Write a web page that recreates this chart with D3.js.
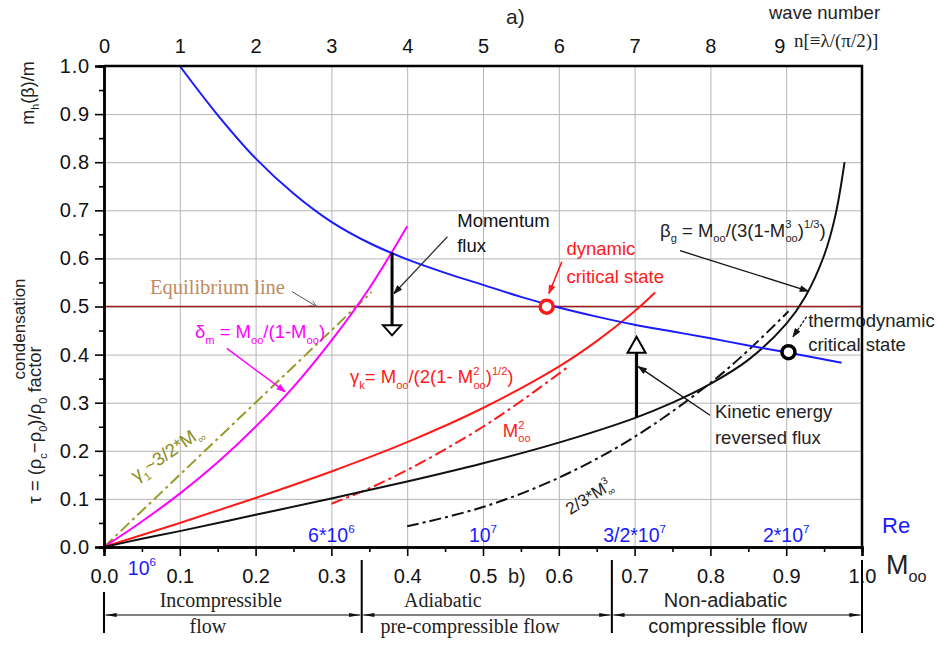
<!DOCTYPE html>
<html>
<head>
<meta charset="utf-8">
<script src="https://cdn.jsdelivr.net/npm/d3@7"></script>
<style>
  body { margin: 0; background: #fff; }
  text { font-family: Arial, "Liberation Sans", sans-serif; }
  .serif { font-family: "Liberation Serif", "Times New Roman", serif; }
</style>
</head>
<body>
<svg id="chart"></svg>
<script>
var svgWidth = 938;
var svgHeight = 645;

var margin = { top: 66, right: 76, bottom: 98, left: 104 };
var chartWidth = svgWidth - margin.left - margin.right;
var chartHeight = svgHeight - margin.top - margin.bottom;

// ---- data ----
var machTicks = [0.0, 0.1, 0.2, 0.3, 0.4, 0.5, 0.6, 0.7, 0.8, 0.9, 1.0];
var machMinor = [0.05, 0.15, 0.25, 0.35, 0.45, 0.55, 0.65, 0.75, 0.85, 0.95];
var ratioTicks = [0.0, 0.1, 0.2, 0.3, 0.4, 0.5, 0.6, 0.7, 0.8, 0.9, 1.0];
var ratioMinor = [0.05, 0.15, 0.25, 0.35, 0.45, 0.55, 0.65, 0.75, 0.85, 0.95];
var waveTicks = [0, 1, 2, 3, 4, 5, 6, 7, 8, 9];

// blue: m_h(beta)/m
var massM = [0.1, 0.15, 0.2, 0.25, 0.3, 0.35, 0.4, 0.45, 0.5, 0.55, 0.6, 0.65, 0.7, 0.75, 0.8, 0.85, 0.9, 0.973];
var massV = [1.0, 0.898, 0.808, 0.735, 0.676, 0.632, 0.598, 0.570, 0.545, 0.520, 0.498, 0.479, 0.462, 0.448, 0.434, 0.419, 0.405, 0.383];

// black solid: beta_g
var betaM = [0, 0.05, 0.1, 0.2, 0.3, 0.4, 0.5, 0.6, 0.7, 0.75, 0.8, 0.85, 0.9, 0.925, 0.95, 0.965, 0.977];
var betaV = [0, 0.017, 0.033, 0.067, 0.101, 0.136, 0.174, 0.217, 0.268, 0.300, 0.339, 0.389, 0.464, 0.520, 0.606, 0.690, 0.80];

// red solid: gamma_k
var gammaKM = [0, 0.1, 0.2, 0.3, 0.4, 0.5, 0.6, 0.65, 0.7, 0.727];
var gammaKV = [0, 0.050, 0.102, 0.157, 0.218, 0.289, 0.375, 0.428, 0.490, 0.529];

// red dash-dot: M^2
var machSqM = [0.3, 0.35, 0.4, 0.45, 0.5, 0.55, 0.61];
var machSqV = [0.09, 0.122, 0.16, 0.203, 0.25, 0.303, 0.372];

// magenta: delta_m
var deltaM = [0, 0.05, 0.1, 0.15, 0.2, 0.25, 0.3, 0.35, 0.4];
var deltaV = [0, 0.053, 0.111, 0.176, 0.25, 0.333, 0.429, 0.538, 0.667];

// olive dash-dot: gamma_1
var gamma1M = [0, 0.353];
var gamma1V = [0, 0.53];

// black dash-dot: 2/3*M^3
var cubeM = [0.4, 0.5, 0.6, 0.7, 0.8, 0.85, 0.903];
var cubeV = [0.043, 0.083, 0.144, 0.229, 0.341, 0.409, 0.49];

var equilibrium = 0.5;
var dynamicState = [0.584, 0.4996];
var thermoState = [0.903, 0.405];
var momentumFlux = [0.38, 0.612, 0.44];
var kineticFlux = [0.7026, 0.27, 0.437];

var reLabels = [["10", "6"], ["6*10", "6"], ["10", "7"], ["3/2*10", "7"], ["2*10", "7"]];
var reAt = [0.05, 0.3, 0.5, 0.7, 0.9];

var regimeBounds = [0, 0.34, 0.67, 1.0];
var regimeTop = ["Incompressible", "Adiabatic", "Non-adiabatic"];
var regimeTopAt = [0.154, 0.447, 0.82];
var regimeBottom = ["flow", "pre-compressible flow", "compressible flow"];
var regimeBottomAt = [0.137, 0.483, 0.823];
var regimeSerif = [true, true, false];

function pairs(xs, ys) { return xs.map(function(d, i) { return [d, ys[i]]; }); }

var svg = d3.select("#chart")
  .attr("width", svgWidth)
  .attr("height", svgHeight);

var defs = svg.append("defs");
function marker(id, color, open) {
  defs.append("marker")
    .attr("id", id)
    .attr("viewBox", "0 -5 10 10")
    .attr("refX", 10).attr("refY", 0)
    .attr("markerWidth", open ? 9 : 11).attr("markerHeight", open ? 7 : 8)
    .attr("markerUnits", "userSpaceOnUse")
    .attr("orient", "auto-start-reverse")
    .append("path")
    .attr("d", open ? "M0,-4L10,0L0,4" : "M0,-3.5L10,0L0,3.5Z")
    .attr("fill", open ? "none" : color)
    .attr("stroke", color)
    .attr("stroke-width", 1);
}
marker("arrBlack", "#111", false);
marker("arrRed", "#ff1a1a", false);
marker("arrMag", "#ff00ff", false);
marker("arrGray", "#555", true);
defs.append("marker")
  .attr("id", "arrBracket")
  .attr("viewBox", "0 -5 16 10")
  .attr("refX", 16).attr("refY", 0)
  .attr("markerWidth", 15).attr("markerHeight", 7)
  .attr("markerUnits", "userSpaceOnUse")
  .attr("orient", "auto-start-reverse")
  .append("path").attr("d", "M0,-3L16,0L0,3Z").attr("fill", "#111");

var chartGroup = svg.append("g")
  .attr("transform", `translate(${margin.left}, ${margin.top})`);

var xLinearScale = d3.scaleLinear().domain([0, 1]).range([0, chartWidth]);
var xWaveScale = d3.scaleLinear().domain([0, 10]).range([0, chartWidth]);
var yLinearScale = d3.scaleLinear().domain([0, 1]).range([chartHeight, 0]);

// grid
chartGroup.append("g")
  .attr("class", "grid")
  .attr("transform", `translate(0, ${chartHeight})`)
  .call(d3.axisBottom(xLinearScale).tickValues(machTicks.slice(1, -1)).tickSize(-chartHeight).tickFormat(""))
  .call(g => g.select(".domain").remove());
chartGroup.append("g")
  .attr("class", "grid")
  .call(d3.axisLeft(yLinearScale).tickValues(ratioTicks.slice(1, -1)).tickSize(-chartWidth).tickFormat(""))
  .call(g => g.select(".domain").remove());
chartGroup.selectAll(".grid line").attr("stroke", "#b4b4b4").attr("stroke-width", 1);

// equilibrium line
chartGroup.append("line")
  .attr("x1", xLinearScale(0)).attr("x2", xLinearScale(1))
  .attr("y1", yLinearScale(equilibrium)).attr("y2", yLinearScale(equilibrium))
  .attr("stroke", "#9b1c1c").attr("stroke-width", 1.5);

// curves
var line = d3.line()
  .x(d => xLinearScale(d[0]))
  .y(d => yLinearScale(d[1]))
  .curve(d3.curveCatmullRom.alpha(0.5));

function curve(data, color, dash, width) {
  chartGroup.append("path")
    .datum(data)
    .attr("d", line)
    .attr("fill", "none")
    .attr("stroke", color)
    .attr("stroke-width", width || 2)
    .attr("stroke-dasharray", dash || null);
}
curve(pairs(gamma1M, gamma1V), "#9a9a2a", "12,4,3,4", 2);
curve(pairs(deltaM, deltaV), "#ff00ff");
curve(pairs(gammaKM, gammaKV), "#ff1a1a");
curve(pairs(machSqM, machSqV), "#ff1a1a", "12,4,3,4");
curve(pairs(cubeM, cubeV), "#111", "12,4,3,4");
curve(pairs(betaM, betaV), "#111");
curve(pairs(massM, massV), "#1a1aff");

// axes
var leftAxis = d3.axisLeft(yLinearScale).tickValues(ratioTicks).tickSize(9).tickPadding(5).tickFormat(d3.format(".1f"));
chartGroup.append("g").attr("class", "axis left").call(leftAxis);
chartGroup.append("g").attr("class", "axis minor")
  .call(d3.axisLeft(yLinearScale).tickValues(ratioMinor).tickSize(5).tickFormat(""));

var bottomAxis = d3.axisBottom(xLinearScale).tickValues(machTicks).tickSize(9).tickFormat(d3.format(".1f"));
chartGroup.append("g").attr("class", "axis bottom")
  .attr("transform", `translate(0, ${chartHeight})`)
  .call(bottomAxis)
  .selectAll("text").attr("y", 36).attr("dy", 0);
chartGroup.append("g").attr("class", "axis minor")
  .attr("transform", `translate(0, ${chartHeight})`)
  .call(d3.axisBottom(xLinearScale).tickValues(machMinor).tickSize(5).tickFormat(""));

chartGroup.append("g").attr("class", "axis top")
  .call(d3.axisTop(xWaveScale).tickValues(waveTicks).tickSize(0).tickPadding(13))
  .call(g => g.select(".domain").remove());

chartGroup.selectAll(".axis .domain").attr("stroke", "#000").attr("stroke-width", 2.5);
chartGroup.selectAll(".axis line").attr("stroke", "#000").attr("stroke-width", 1.6);
chartGroup.selectAll(".axis text").attr("font-size", 20).attr("fill", "#111")
  .style("font-family", "Arial, 'Liberation Sans', sans-serif");
chartGroup.selectAll(".axis.left text").attr("letter-spacing", 0.8);
chartGroup.selectAll(".axis.top text").filter(d => d === 9).attr("dx", -7);

// frame top + right
chartGroup.append("path")
  .attr("d", `M${xLinearScale(0)},${yLinearScale(1)}H${xLinearScale(1)}V${yLinearScale(0)}`)
  .attr("fill", "none").attr("stroke", "#000").attr("stroke-width", 2.5);

// rich text helper: parts = [text, "sub"|"sup"|"", dx]
function rich(sel, parts, base) {
  var shift = 0;
  parts.forEach(function(p) {
    var target = p[1] === "sub" ? base * 0.3 : p[1] === "sup" ? -base * 0.45 : 0;
    var t = sel.append("tspan")
      .attr("dy", target - shift)
      .attr("font-size", p[1] ? base * 0.6 : base)
      .text(p[0]);
    if (p[2]) t.attr("dx", p[2]);
    shift = target;
  });
  return sel;
}
function label(m, v, parts, base, color, opts) {
  opts = opts || {};
  var t = chartGroup.append("text")
    .attr("fill", color)
    .attr("font-size", base)
    .attr("text-anchor", opts.anchor || "start");
  if (opts.rotate) {
    t.attr("transform", `translate(${xLinearScale(m)}, ${yLinearScale(v)}) rotate(${opts.rotate})`);
  } else {
    t.attr("x", xLinearScale(m)).attr("y", yLinearScale(v));
  }
  if (opts.serif) t.attr("class", "serif");
  return rich(t, parts, base);
}
function arrow(a, b, id, color, width, dash) {
  chartGroup.append("line")
    .attr("x1", xLinearScale(a[0])).attr("y1", yLinearScale(a[1]))
    .attr("x2", xLinearScale(b[0])).attr("y2", yLinearScale(b[1]))
    .attr("stroke", color).attr("stroke-width", width || 1.3)
    .attr("stroke-dasharray", dash || null)
    .attr("marker-end", `url(#${id})`);
}
function fluxArrow(f, headLen) {
  var x = xLinearScale(f[0]);
  var y0 = yLinearScale(f[1]);
  var tip = yLinearScale(f[2]);
  var dir = tip > y0 ? -1 : 1;
  var base = tip + dir * headLen;
  chartGroup.append("line")
    .attr("x1", x).attr("x2", x).attr("y1", y0).attr("y2", base)
    .attr("stroke", "#000").attr("stroke-width", 3);
  chartGroup.append("path")
    .attr("d", `M${x - 9},${base}L${x + 9},${base}L${x},${tip}Z`)
    .attr("fill", "#fff").attr("stroke", "#000").attr("stroke-width", 2);
}

// annotations
label(0.0607, 0.527, [["Equilibrium line", ""]], 20.5, "#c08a62", { serif: true });
arrow([0.248, 0.531], [0.281, 0.4996], "arrGray", "#555", 1);

fluxArrow(momentumFlux, 10);
label(0.466, 0.666, [["Momentum", ""]], 18.5, "#111");
label(0.466, 0.614, [["flux", ""]], 18.5, "#111");
arrow([0.453, 0.645], [0.3826, 0.527], "arrBlack", "#333", 1.3);

label(0.61, 0.607, [["dynamic", ""]], 18.5, "#ff1a1a");
label(0.61, 0.549, [["critical state", ""]], 18.5, "#ff1a1a");
arrow([0.604, 0.593], [0.587, 0.527], "arrRed", "#ff1a1a", 1.6);

label(0.7335, 0.645, [["β", ""], ["g", "sub"], [" = M", ""], ["oo", "sub"], ["/(3(1-M", ""], ["3", "sup"], ["oo", "sub", -6], [")", ""], ["1/3", "sup"], [")", ""]], 18.5, "#222");
arrow([0.76, 0.616], [0.929, 0.532], "arrBlack", "#111", 1.3);

label(0.929, 0.458, [["thermodynamic", ""]], 18.5, "#222");
label(0.929, 0.408, [["critical state", ""]], 18.5, "#222");
arrow([0.927, 0.479], [0.909, 0.437], "arrBlack", "#111", 1.2, "3,1.5");

fluxArrow(kineticFlux, 16);
label(0.806, 0.2676, [["Kinetic energy", ""]], 18.5, "#222");
label(0.806, 0.214, [["reversed flux", ""]], 18.5, "#222");
arrow([0.7995, 0.274], [0.705, 0.375], "arrBlack", "#111", 1.3);

label(0.12, 0.434, [["δ", ""], ["m", "sub"], [" = M", ""], ["oo", "sub"], ["/(1-M", ""], ["oo", "sub"], [")", ""]], 18.5, "#ff00ff");
arrow([0.162, 0.413], [0.2388, 0.323], "arrMag", "#ff00ff", 1.5);

label(0.3245, 0.34, [["γ", ""], ["k", "sub"], ["= M", ""], ["oo", "sub"], ["/(2(1- M", ""], ["2", "sup"], ["oo", "sub", -6], [")", ""], ["1/2", "sup"], [")", ""]], 18.5, "#ff1a1a");
label(0.526, 0.229, [["M", ""], ["2", "sup"], ["oo", "sub", -6]], 18.5, "#ff1a1a");

label(0.043, 0.135, [["γ", ""], ["1", "sub"], ["~3/2*M", ""], ["∞", "sub"]], 18.5, "#8c8c20", { rotate: -35 });
label(0.615, 0.066, [["2/3*M", ""], ["3", "sup"], ["∞", "sub", -6]], 17, "#222", { rotate: -32 });

// critical state circles
chartGroup.append("circle")
  .attr("cx", xLinearScale(dynamicState[0])).attr("cy", yLinearScale(dynamicState[1]))
  .attr("r", 6.5).attr("fill", "#fff").attr("stroke", "#ff1a1a").attr("stroke-width", 3.5);
chartGroup.append("circle")
  .attr("cx", xLinearScale(thermoState[0])).attr("cy", yLinearScale(thermoState[1]))
  .attr("r", 6.5).attr("fill", "#fff").attr("stroke", "#000").attr("stroke-width", 3.5);

// Reynolds numbers
reLabels.forEach(function(r, i) {
  var below = i === 0;
  var t = chartGroup.append("text")
    .attr("x", xLinearScale(reAt[i]))
    .attr("y", below ? chartHeight + 28 : chartHeight - 5)
    .attr("text-anchor", "middle")
    .attr("fill", "#1a1aff")
    .attr("font-size", 19.5);
  rich(t, [[r[0], ""], [r[1], "sup"]], 19.5);
});

// regime brackets
var regimeG = chartGroup.append("g").attr("transform", `translate(0, ${chartHeight})`);
regimeBounds.forEach(function(b, i) {
  regimeG.append("line")
    .attr("x1", xLinearScale(b)).attr("x2", xLinearScale(b))
    .attr("y1", i === 0 ? 45 : 13).attr("y2", 86)
    .attr("stroke", "#000").attr("stroke-width", 2);
});
regimeTop.forEach(function(name, i) {
  regimeG.append("line")
    .attr("x1", xLinearScale(regimeBounds[i]) + 1.5).attr("x2", xLinearScale(regimeBounds[i + 1]) - 1.5)
    .attr("y1", 68).attr("y2", 68)
    .attr("stroke", "#000").attr("stroke-width", 1.2)
    .attr("marker-start", "url(#arrBracket)").attr("marker-end", "url(#arrBracket)");
  regimeG.append("text")
    .attr("class", regimeSerif[i] ? "serif" : null)
    .attr("x", xLinearScale(regimeTopAt[i])).attr("y", 60)
    .attr("text-anchor", "middle").attr("font-size", 20).attr("fill", "#222")
    .text(name);
  regimeG.append("text")
    .attr("class", regimeSerif[i] ? "serif" : null)
    .attr("x", xLinearScale(regimeBottomAt[i])).attr("y", 86)
    .attr("text-anchor", "middle").attr("font-size", 20).attr("fill", "#222")
    .text(regimeBottom[i]);
});

// axis titles
svg.append("text").attr("x", 506).attr("y", 24).attr("font-size", 21).attr("fill", "#222").text("a)");
svg.append("text").attr("x", 508).attr("y", 583).attr("font-size", 20).attr("fill", "#222").text("b)");
svg.append("text").attr("x", 769).attr("y", 19).attr("font-size", 18.5).attr("fill", "#222").text("wave number");
svg.append("text").attr("class", "serif").attr("x", 794).attr("y", 47).attr("font-size", 19).attr("fill", "#222").text("n[≡λ/(π/2)]");
svg.append("text").attr("x", 882).attr("y", 533).attr("font-size", 22).attr("fill", "#1a1aff").text("Re");
rich(svg.append("text").attr("x", 886).attr("y", 574).attr("font-size", 27).attr("fill", "#222"),
  [["M", ""], ["oo", "sub"]], 27);

rich(svg.append("text").attr("transform", "translate(34, 93) rotate(-90)")
  .attr("text-anchor", "middle").attr("font-size", 18).attr("fill", "#222"),
  [["m", ""], ["h", "sub"], ["(β)/m", ""]], 18);
svg.append("text").attr("transform", "translate(25, 329) rotate(-90)")
  .attr("text-anchor", "middle").attr("font-size", 17).attr("fill", "#222").text("condensation");
rich(svg.append("text").attr("transform", "translate(41, 425) rotate(-90)")
  .attr("text-anchor", "middle").attr("font-size", 18.5).attr("fill", "#222"),
  [["τ = (ρ", ""], ["c", "sub"], ["−ρ", ""], ["0", "sub"], [")/ρ", ""], ["0", "sub"], ["  factor", ""]], 18.5);
</script>
</body>
</html>
